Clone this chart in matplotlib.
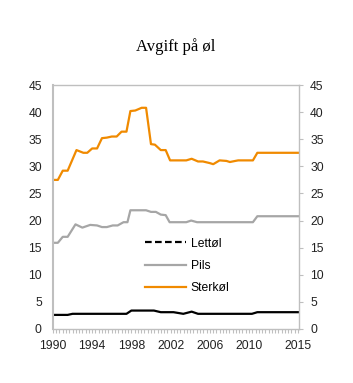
import matplotlib
matplotlib.use("Agg")
import matplotlib.pyplot as plt
from matplotlib.lines import Line2D
from matplotlib.ticker import MultipleLocator

# Avgift på øl (kr per liter)
sterk_t = [1990.0, 1990.5, 1991.0, 1991.5, 1992.4, 1993.1, 1993.5, 1994.0, 1994.5,
           1995.0, 1995.5, 1996.0, 1996.5, 1997.0, 1997.5, 1997.9, 1998.4, 1999.05,
           1999.5, 2000.0, 2000.4, 2001.0, 2001.5, 2001.95, 2003.6, 2004.15, 2004.8,
           2005.3, 2006.0, 2006.35, 2007.0, 2007.7, 2008.05, 2008.6, 2008.9, 2010.4,
           2010.85, 2015.0]
sterk_v = [27.5, 27.5, 29.2, 29.2, 33.0, 32.5, 32.5, 33.3, 33.3,
           35.2, 35.3, 35.5, 35.5, 36.4, 36.4, 40.2, 40.3, 40.8,
           40.8, 34.1, 34.0, 33.0, 33.0, 31.1, 31.1, 31.4, 30.9,
           30.9, 30.6, 30.4, 31.1, 31.0, 30.8, 31.0, 31.1, 31.1,
           32.5, 32.5]

pils_t = [1990.0, 1990.5, 1991.0, 1991.5, 1992.3, 1993.0, 1993.8, 1994.5, 1995.0,
          1995.5, 1996.1, 1996.6, 1997.2, 1997.6, 1997.9, 1999.5, 2000.0, 2000.5,
          2001.0, 2001.5, 2001.9, 2003.6, 2004.1, 2004.7, 2010.4, 2010.85, 2015.0]
pils_v = [15.9, 15.9, 17.0, 17.0, 19.3, 18.7, 19.2, 19.1, 18.8,
          18.8, 19.1, 19.1, 19.7, 19.7, 21.9, 21.9, 21.6, 21.6,
          21.1, 21.0, 19.7, 19.7, 20.0, 19.7, 19.7, 20.8, 20.8]

lett_t = [1990.0, 1991.5, 1992.0, 1997.5, 1998.0, 2000.3, 2001.0, 2002.3, 2003.3,
          2004.15, 2004.8, 2010.3, 2010.85, 2015.0]
lett_v = [2.6, 2.6, 2.8, 2.8, 3.4, 3.4, 3.1, 3.1, 2.8,
          3.2, 2.8, 2.8, 3.1, 3.1]

xticks = [1990, 1994, 1998, 2002, 2006, 2010, 2015]
yticks = [0, 5, 10, 15, 20, 25, 30, 35, 40, 45]

sans = "Liberation Sans"
grey = "#a6a6a6"
orange = "#f08a00"
spine_c = "#bfbfbf"

fig = plt.figure(figsize=(3.53, 3.83), dpi=100)
ax = fig.add_axes([0.150, 0.141, 0.697, 0.637])

ax.plot(lett_t, lett_v, c="black", lw=1.6, solid_joinstyle="round")
ax.plot(pils_t, pils_v, c=grey, lw=1.6, solid_joinstyle="round")
ax.plot(sterk_t, sterk_v, c=orange, lw=1.6, solid_joinstyle="round")

ax.set_xlim(1990, 2015.1)
ax.set_ylim(0, 45)
ax.set_xticks(xticks)
ax.xaxis.set_minor_locator(MultipleLocator(1 / 3))
ax.set_yticks(yticks)

for s in ax.spines.values():
    s.set_color(spine_c)
    s.set_linewidth(1.0)
ax.spines["left"].set_linewidth(1.5)

ax.tick_params(axis="x", which="both", direction="out", length=3, width=0.8,
               color=spine_c, pad=5, labelsize=8.7)
ax.tick_params(axis="y", length=0, pad=8, labelsize=8.7)
for lab in ax.get_xticklabels() + ax.get_yticklabels():
    lab.set_family(sans)
    lab.set_color("#222222")

ax2 = ax.twinx()
ax2.set_ylim(0, 45)
ax2.set_yticks(yticks)
for s in ax2.spines.values():
    s.set_visible(False)
ax2.tick_params(axis="y", direction="out", length=3, width=0.8, color=spine_c,
                pad=5, labelsize=8.7)
for lab in ax2.get_yticklabels():
    lab.set_family(sans)
    lab.set_color("#222222")

handles = [Line2D([], [], c="black", lw=1.6, ls=(0, (3, 1.5))),
           Line2D([], [], c=grey, lw=1.6),
           Line2D([], [], c=orange, lw=1.6)]
ax.legend(handles, ["Lettøl", "Pils", "Sterkøl"], loc="upper left",
          bbox_to_anchor=(0.374, 0.375), frameon=False, borderpad=0,
          borderaxespad=0, handlelength=3.4, handletextpad=0.4,
          labelspacing=0.85, prop={"family": sans, "size": 8.7})

fig.text(176 / 353, 1 - 47 / 383, "Avgift på øl", ha="center", va="center",
         family="Liberation Serif", size=12)

fig.savefig("out.png", dpi=100)
